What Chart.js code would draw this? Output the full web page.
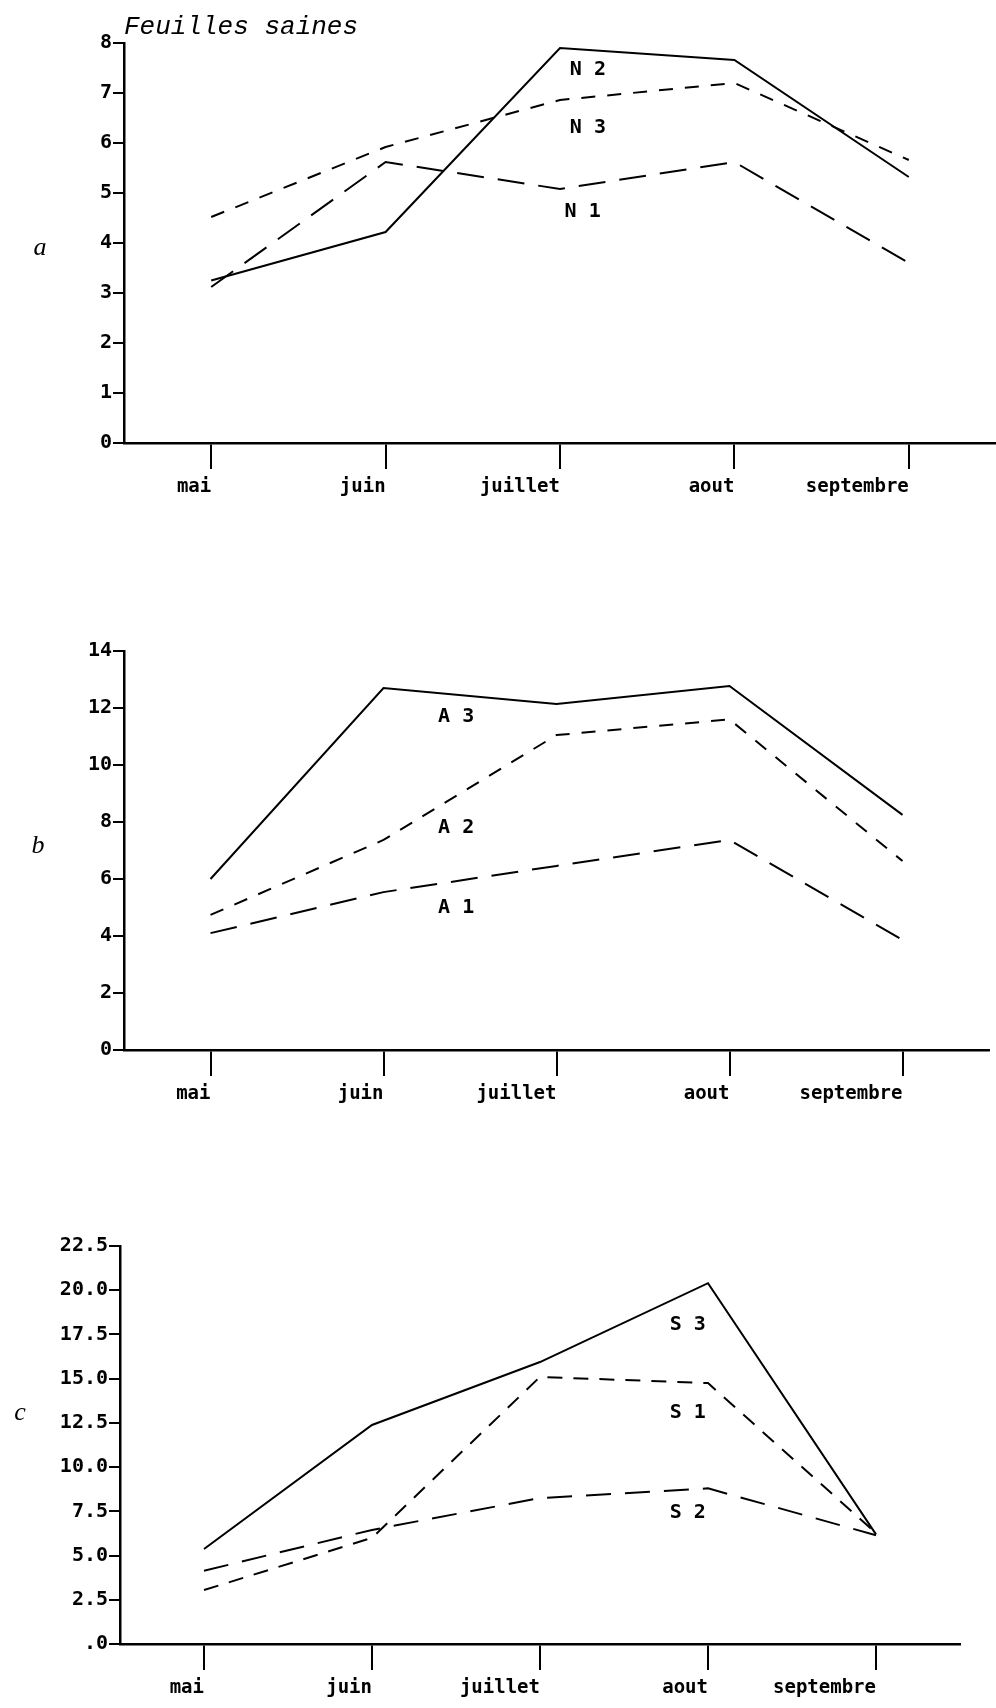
<!DOCTYPE html>
<html>
<head>
<meta charset="utf-8">
<script src="https://cdn.jsdelivr.net/npm/chart.js@4/dist/chart.umd.min.js"></script>
<style>
    body { margin: 0; background: #fff; width: 996px; height: 1708px; position: relative; overflow: hidden; }
    canvas { position: absolute; left: 0; }
</style>
</head>
<body>
<canvas id="graphA" width="996" height="520" style="top:0px"></canvas>
<canvas id="graphB" width="996" height="560" style="top:560px"></canvas>
<canvas id="graphC" width="996" height="548" style="top:1160px"></canvas>
<script>
// Mois d'observation
const mois = ['mai', 'juin', 'juillet', 'aout', 'septembre'];

// a : feuilles saines, niveaux N
const n1 = [3.12, 5.62, 5.08, 5.62, 3.6];
const n2 = [3.25, 4.22, 7.9, 7.66, 5.32];
const n3 = [4.52, 5.92, 6.86, 7.2, 5.66];

// b : niveaux A
const a1 = [4.1, 5.54, 6.46, 7.37, 3.86];
const a2 = [4.74, 7.37, 11.05, 11.6, 6.63];
const a3 = [6.0, 12.7, 12.14, 12.77, 8.25];

// c : niveaux S
const s1 = [3.05, 6.0, 15.1, 14.75, 6.27];
const s2 = [4.14, 6.45, 8.25, 8.8, 6.15];
const s3 = [5.37, 12.38, 15.94, 20.4, 6.2];

// Bornes des axes y
const yMaxA = 8,    yPasA = 1;
const yMaxB = 14,   yPasB = 2;
const yMaxC = 22.5, yPasC = 2.5;

// Styles de trait
const PLEIN = [];
const TIRET_COURT = [14, 12];
const TIRET_MOYEN = [14, 12];
const TIRET_LONG = [27, 14];

const POLICE = '"DejaVu Sans Mono", "Liberation Mono", monospace';

// Textes dessinés sur chaque graphique (lettre du panneau, noms des courbes)
const decor = {
    id: 'decor',
    afterDraw(chart, args, opts) {
        const ctx = chart.ctx;
        const sx = chart.scales.x;
        const sy = chart.scales.y;
        ctx.save();
        ctx.fillStyle = '#000';

        ctx.font = 'bold 20px ' + POLICE;
        ctx.textAlign = 'center';
        ctx.textBaseline = 'middle';
        (opts.etiquettes || []).forEach(e => {
            ctx.fillText(e.texte, sx.getPixelForValue(e.x), sy.getPixelForValue(e.y));
        });

        if (opts.lettre) {
            ctx.font = 'italic 26px "Liberation Serif", serif';
            ctx.fillText(opts.lettre.texte, opts.lettre.px, opts.lettre.py);
        }

        if (opts.titre) {
            ctx.font = 'italic 26px "Liberation Mono", monospace';
            ctx.textAlign = 'left';
            ctx.textBaseline = 'alphabetic';
            ctx.fillText(opts.titre.texte, opts.titre.px, opts.titre.py);
        }
        ctx.restore();
    }
};

function serie(nom, valeurs, tirets) {
    return {
        label: nom,
        data: valeurs,
        borderColor: '#000',
        borderWidth: 2,
        borderDash: tirets,
        pointRadius: 0,
        tension: 0,
        fill: false
    };
}

function creerGraphique(id, cfg) {
    const ctx = document.getElementById(id).getContext('2d');
    return new Chart(ctx, {
        type: 'line',
        data: { labels: mois, datasets: cfg.series },
        options: {
            responsive: false,
            animation: false,
            events: [],
            layout: { padding: cfg.padding },
            plugins: {
                legend: { display: false },
                tooltip: { enabled: false },
                decor: cfg.decor
            },
            scales: {
                x: {
                    offset: true,
                    afterFit: s => { s.height = cfg.hauteurX; },
                    border: { color: '#000', width: 2.5 },
                    grid: {
                        offset: false,
                        drawOnChartArea: false,
                        drawTicks: true,
                        tickLength: 26,
                        color: '#000',
                        lineWidth: 2
                    },
                    ticks: {
                        align: 'end',
                        autoSkip: false,
                        maxRotation: 0,
                        padding: 7,
                        color: '#000',
                        font: { family: POLICE, size: 19, weight: 'bold' }
                    }
                },
                y: {
                    min: 0,
                    max: cfg.yMax,
                    afterFit: s => { s.width = cfg.largeurY; },
                    border: { color: '#000', width: 2.5 },
                    grid: {
                        drawOnChartArea: false,
                        drawTicks: true,
                        tickLength: 11,
                        color: '#000',
                        lineWidth: 2
                    },
                    ticks: {
                        stepSize: cfg.yPas,
                        padding: 1,
                        color: '#000',
                        font: { family: POLICE, size: 20, weight: 'bold' },
                        callback: cfg.formatY
                    }
                }
            }
        },
        plugins: [decor]
    });
}

document.addEventListener('DOMContentLoaded', () => {
    const entier = v => String(v);
    const decimal = v => v === 0 ? '.0' : v.toFixed(1);

    creerGraphique('graphA', {
        series: [serie('N 1', n1, TIRET_LONG), serie('N 2', n2, PLEIN), serie('N 3', n3, TIRET_COURT)],
        yMax: yMaxA, yPas: yPasA, formatY: entier,
        padding: { left: 0, top: 43, right: 0, bottom: 0 },
        largeurY: 124, hauteurX: 77,
        decor: {
            etiquettes: [
                { texte: 'N 2', x: 2.16, y: 7.46 },
                { texte: 'N 3', x: 2.16, y: 6.3 },
                { texte: 'N 1', x: 2.13, y: 4.62 }
            ],
            lettre: { texte: 'a', px: 40, py: 248 },
            titre: { texte: 'Feuilles saines', px: 124, py: 34 }
        }
    });

    creerGraphique('graphB', {
        series: [serie('A 1', a1, TIRET_LONG), serie('A 2', a2, TIRET_MOYEN), serie('A 3', a3, PLEIN)],
        yMax: yMaxB, yPas: yPasB, formatY: entier,
        padding: { left: 0, top: 91, right: 7, bottom: 0 },
        largeurY: 124, hauteurX: 70,
        decor: {
            etiquettes: [
                { texte: 'A 3', x: 1.42, y: 11.68 },
                { texte: 'A 2', x: 1.42, y: 7.79 },
                { texte: 'A 1', x: 1.42, y: 4.98 }
            ],
            lettre: { texte: 'b', px: 38, py: 286 }
        }
    });

    creerGraphique('graphC', {
        series: [serie('S 1', s1, [15, 11]), serie('S 2', s2, [25, 14]), serie('S 3', s3, PLEIN)],
        yMax: yMaxC, yPas: yPasC, formatY: decimal,
        padding: { left: 0, top: 86, right: 36, bottom: 0 },
        largeurY: 120, hauteurX: 64,
        decor: {
            etiquettes: [
                { texte: 'S 3', x: 2.88, y: 18.03 },
                { texte: 'S 1', x: 2.88, y: 13.06 },
                { texte: 'S 2', x: 2.88, y: 7.4 }
            ],
            lettre: { texte: 'c', px: 20, py: 253 }
        }
    });
});
</script>
</body>
</html>
